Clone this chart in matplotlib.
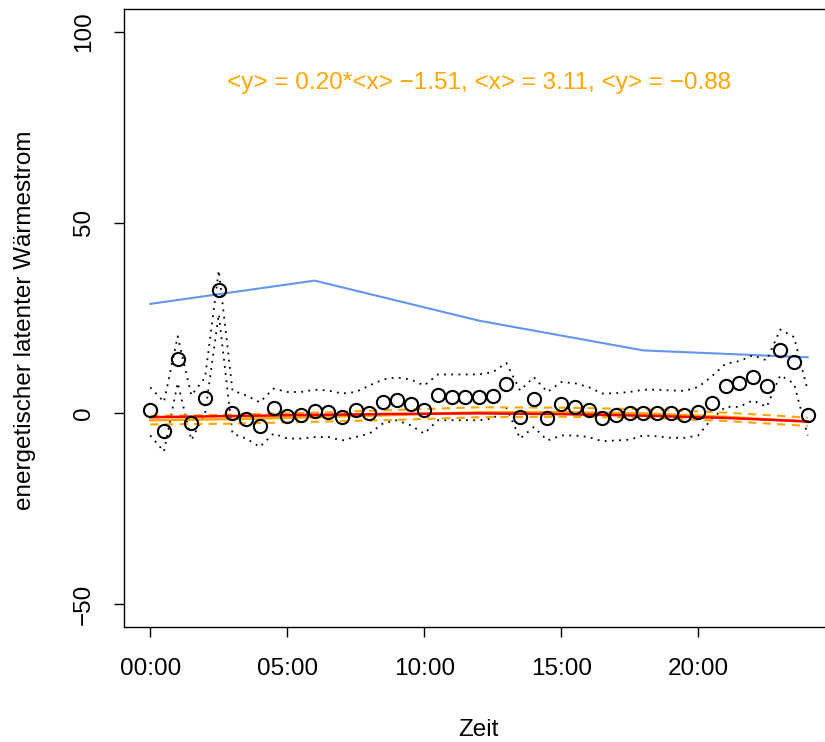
import numpy as np
import matplotlib
matplotlib.use("Agg")
import matplotlib.pyplot as plt

plt.rcParams['font.family'] = ['Liberation Sans', 'DejaVu Sans']

# hours (half-hourly)
hours = [i * 0.5 for i in range(49)]
mean_vals = [0.8, -4.7, 14.2, -2.4, 3.9, 32.3, 0.0, -1.6, -3.4, 1.3,
             -0.8, -0.3, 0.5, 0.3, -1.0, 0.8, 0.0, 3.1, 3.4, 2.4,
             0.8, 4.7, 4.2, 4.2, 4.2, 4.5, 7.6, -1.0, 3.7, -1.3,
             2.4, 1.8, 1.0, -1.3, -0.5, 0.0, 0.0, 0.0, 0.0, -0.3,
             0.3, 2.8, 7.3, 7.9, 9.6, 7.2, 16.5, 13.5, -0.3]
upper_vals = [6.8, 3.0, 20.2, 4.7, 9.4, 37.5, 6.0, 4.7, 2.9, 6.5,
              5.6, 5.6, 6.2, 6.0, 5.2, 5.6, 7.3, 8.9, 9.4, 8.9,
              7.3, 10.2, 10.2, 10.2, 10.2, 10.8, 13.2, 6.0, 9.5, 5.6,
              8.2, 7.9, 6.9, 5.2, 5.3, 5.6, 6.2, 6.2, 6.0, 5.9,
              6.9, 9.7, 13.0, 13.7, 15.2, 13.9, 22.0, 20.0, 6.0]
lower_vals = [-5.8, -10.0, 8.0, -7.0, 0.0, 26.0, -5.3, -6.6, -8.8, -5.3,
              -6.6, -6.6, -6.2, -6.2, -7.1, -6.2, -5.3, -2.6, -1.8, -3.1,
              -5.3, -1.8, -1.8, -1.8, -1.8, -1.4, 1.4, -6.6, -3.6, -7.1,
              -5.8, -5.8, -6.2, -7.3, -7.1, -6.9, -5.8, -6.0, -6.4, -6.4,
              -5.8, -1.4, 1.7, 1.7, 3.4, 1.7, 10.0, 7.8, -5.8]

# reference (blue) curve
ref_hours = [0, 6, 12, 18, 24]
ref_vals = [28.7, 34.8, 24.3, 16.5, 14.7]

# smooth fits
fit_hours = [0, 3, 6, 9, 12, 15, 18, 21, 24]
red_fit = [-1.0, -0.7, -0.4, -0.15, 0.0, -0.2, -0.6, -1.2, -2.1]
orange_fit = [-1.8, -1.5, -1.0, -0.4, 0.3, 0.3, 0.0, -0.9, -2.2]
orange_upper = [-0.7, -0.3, 0.2, 0.9, 1.6, 1.5, 1.1, 0.2, -1.1]
orange_lower = [-2.9, -2.7, -2.2, -1.7, -1.0, -0.9, -1.1, -2.0, -3.3]

xtick_pos = [0, 5, 10, 15, 20]
xtick_labels = ["00:00", "05:00", "10:00", "15:00", "20:00"]
ytick_pos = [-50, 0, 50, 100]
annotation = "<y> = 0.20*<x> \u22121.51, <x> = 3.11, <y> = \u22120.88"

FS = 17.5
W, H = 825, 742
fig = plt.figure(figsize=(W / 100, H / 100), dpi=100)
left, right, top, bottom = 124, 834, 9, 627
ax = fig.add_axes([left / W, 1 - bottom / H, (right - left) / W, (bottom - top) / H])

ax.plot(ref_hours, ref_vals, color='#6495ED', lw=1.5)
ax.plot(hours, upper_vals, color='black', lw=1.3, linestyle=(0, (1, 3)))
ax.plot(hours, lower_vals, color='black', lw=1.3, linestyle=(0, (1, 3)))
ax.plot(fit_hours, orange_upper, color='orange', lw=1.5, linestyle=(0, (4, 3)))
ax.plot(fit_hours, orange_lower, color='orange', lw=1.5, linestyle=(0, (4, 3)))
ax.plot(fit_hours, orange_fit, color='orange', lw=1.8)
ax.plot(fit_hours, red_fit, color='red', lw=1.8)
ax.plot(hours, mean_vals, linestyle='none', marker='o', markersize=9.5,
        markerfacecolor='none', markeredgecolor='black', markeredgewidth=1.5)

ax.set_xlim(-0.96, 24.96)
ax.set_ylim(-56, 106)
ax.set_xticks(xtick_pos)
ax.set_xticklabels(xtick_labels, fontsize=FS)
ax.set_yticks(ytick_pos)
ax.set_yticklabels([str(v).replace('-', '\u2212') for v in ytick_pos], fontsize=FS,
                   rotation=90, va='center')
ax.tick_params(direction='out', length=7, width=1)
ax.tick_params(axis='x', pad=15)
ax.tick_params(axis='y', pad=14)
for s in ax.spines.values():
    s.set_linewidth(1.0)

ax.text(12, 86.5, annotation, color='orange', fontsize=FS, ha='center', va='center')

fig.text(478 / W, 1 - 730 / H, "Zeit", fontsize=FS, ha='center', va='center')
fig.text(25 / W, 1 - 320 / H, "energetischer latenter W\u00e4rmestrom", fontsize=FS,
         ha='center', va='center', rotation=90)

fig.savefig("out.png", dpi=100)
